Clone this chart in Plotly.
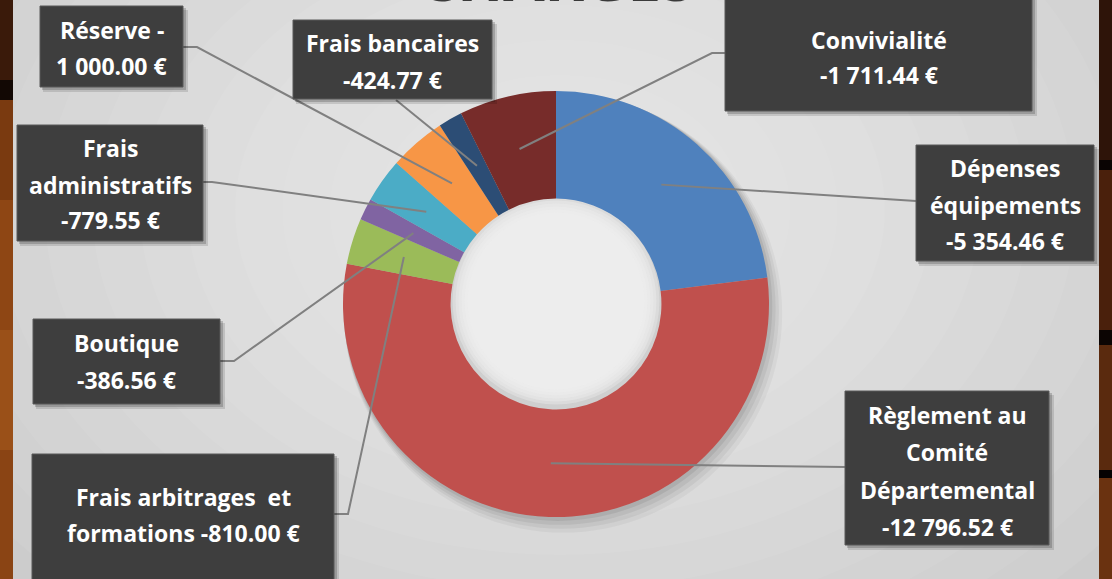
import math
import plotly.graph_objects as go

# ---------------- data ----------------
labels = ["Dépenses équipements", "Règlement au Comité Départemental",
          "Frais arbitrages et formations", "Boutique", "Frais administratifs",
          "Réserve", "Frais bancaires", "Convivialité"]
values = [5354.46, 12796.52, 810.00, 386.56, 779.55, 1000.00, 424.77, 1711.44]
colors = ["#4F81BD", "#C0504D", "#9BBB59", "#8064A2", "#4BACC6",
          "#F79646", "#2C4D75", "#772C2A"]
title_text = "CHARGES"


def fmt(v, sign="-"):
    return sign + f"{v:,.2f}".replace(",", " ") + " €"


label_lines = [
    ["Dépenses", "équipements", fmt(values[0])],
    ["Règlement au", "Comité", "Départemental", fmt(values[1])],
    ["Frais arbitrages  et", "formations " + fmt(values[2])],
    ["Boutique", fmt(values[3])],
    ["Frais", "administratifs", fmt(values[4])],
    ["Réserve -", fmt(values[5], sign="")],
    ["Frais bancaires", fmt(values[6])],
    ["Convivialité", fmt(values[7])],
]

# ---------------- layout (pixels) ----------------
W, H = 1112, 579
CX, CY, R_OUT, HOLE = 556, 304, 213, 0.495

boxes = [
    (916, 145, 1094, 261),
    (845, 391, 1049, 545),
    (32, 454, 334, 582),
    (33, 319, 220, 404),
    (17, 125, 203, 241),
    (40, 6, 183, 87),
    (293, 20, 492, 99),
    (725, -5, 1032, 111),
]
attach = [(916, 201), (845, 467), (334, 514), (220, 361), (203, 182),
          (183, 47), (396, 100), (725, 53)]
elbow = [(916, 201), (845, 467), (348, 514), (234, 361), (212, 182),
         (197, 47), (396, 100), (712, 53)]
line_centers = [
    [168, 205, 241],
    [415, 452, 490, 527],
    [497, 533],
    [343, 380],
    [148, 185, 220],
    [30, 66],
    [43, 80],
    [40, 75],
]


def px(x):
    return x / W


def py(y):
    return 1 - y / H


total = sum(values)
mid_r = R_OUT * (1 + HOLE) / 2
anchors = []
cum = 0
for v in values:
    a = (cum + v / 2) / total * 2 * math.pi
    anchors.append((CX + mid_r * math.sin(a), CY - mid_r * math.cos(a)))
    cum += v

fig = go.Figure()
fig.add_trace(go.Pie(
    labels=labels, values=values, sort=False, direction="clockwise",
    rotation=0, hole=HOLE, textinfo="none", hoverinfo="label+value",
    marker=dict(colors=colors, line=dict(width=0)),
    domain=dict(x=[px(CX - R_OUT), px(CX + R_OUT)],
                y=[py(CY + R_OUT), py(CY - R_OUT)]),
    showlegend=False,
))


def rect(x0, y0, x1, y1, fill, layer="below", line=None):
    return dict(type="rect", xref="paper", yref="paper",
                x0=px(x0), x1=px(x1), y0=py(y1), y1=py(y0),
                fillcolor=fill, line=line or dict(width=0), layer=layer)


def ellipse(cx, cy, rx, ry, fill, layer="below"):
    return dict(type="circle", xref="paper", yref="paper",
                x0=px(cx - rx), x1=px(cx + rx), y0=py(cy + ry), y1=py(cy - ry),
                fillcolor=fill, line=dict(width=0), layer=layer)


shapes = []
# grey panel with soft radial highlight
shapes.append(rect(0, 0, W, H, "#c6c6c6"))
steps = 16
for k in range(steps):
    f = 1 - k / steps
    shapes.append(ellipse(560, 210, 760 * f + 40, 560 * f + 30, "rgba(255,255,255,0.06)"))
# wood strips (drawn over the panel edges)
for (y0, y1, c) in [(0, 80, "#3a1a0a"), (80, 100, "#120804"), (100, 200, "#7a3a10"),
                    (200, 330, "#8e4614"), (330, 450, "#9a5018"), (450, 579, "#8a4414")]:
    shapes.append(rect(0, y0, 13, y1, c))
for (y0, y1, c) in [(0, 160, "#2e1409"), (160, 170, "#0a0403"), (170, 330, "#4a200c"),
                    (330, 345, "#0c0503"), (345, 470, "#5a2a0e"), (470, 478, "#050202"),
                    (478, 579, "#6a3210")]:
    shapes.append(rect(1099, y0, W, y1, c))
# donut soft shadow
for d, op in [(12, 0.04), (9, 0.05), (6, 0.06), (3, 0.07)]:
    shapes.append(ellipse(CX + d * 0.6, CY + d * 0.8, R_OUT + d * 0.5, R_OUT + d * 0.5,
                          f"rgba(0,0,0,{op})"))
# hole (light, with subtle inner shading)
r_in = R_OUT * HOLE
shapes.append(ellipse(CX, CY, r_in + 1, r_in + 1, "#cfcfcf"))
for k in range(6):
    rr = r_in - 2 - k * 3
    shapes.append(ellipse(CX, CY - 3, rr, rr, "rgba(238,238,238,0.38)"))

# leader lines
for (ax, ay), (ex, ey), (bx, by) in zip(anchors, elbow, attach):
    path = f"M {px(ax)},{py(ay)} L {px(ex)},{py(ey)} L {px(bx)},{py(by)}"
    shapes.append(dict(type="path", xref="paper", yref="paper", path=path,
                       line=dict(color="#808080", width=2), layer="above"))

# label boxes with shadow
for (x0, y0, x1, y1) in boxes:
    shapes.append(rect(x0 + 3, y0 + 4, x1 + 5, y1 + 5, "rgba(0,0,0,0.12)", layer="above"))
    shapes.append(rect(x0 + 2, y0 + 2, x1 + 3, y1 + 3, "rgba(0,0,0,0.18)", layer="above"))
    shapes.append(rect(x0, y0, x1, y1, "#3e3e3e", layer="above",
                       line=dict(color="#585858", width=1)))

annotations = []
for lines, (x0, y0, x1, y1), ys in zip(label_lines, boxes, line_centers):
    for t, yc in zip(lines, ys):
        annotations.append(dict(
            x=px((x0 + x1) / 2), y=py(yc), xref="paper", yref="paper",
            text=t, showarrow=False, xanchor="center", yanchor="middle",
            font=dict(family="Open Sans", size=23, color="white", weight="bold"),
        ))

annotations.append(dict(
    x=px(556), y=1, xref="paper", yref="paper", text=title_text, showarrow=False,
    xanchor="center", yanchor="bottom", yshift=-21,
    font=dict(family="Open Sans", size=60, color="#3a3a3a", weight="bold"),
))

fig.update_layout(
    width=W, height=H, margin=dict(l=0, r=0, t=0, b=0),
    paper_bgcolor="#c6c6c6", plot_bgcolor="rgba(0,0,0,0)",
    shapes=shapes, annotations=annotations,
)

fig.write_html("out.html", config={"displayModeBar": False},
               post_script="document.body.style.margin='0';document.body.style.overflow='hidden';")
